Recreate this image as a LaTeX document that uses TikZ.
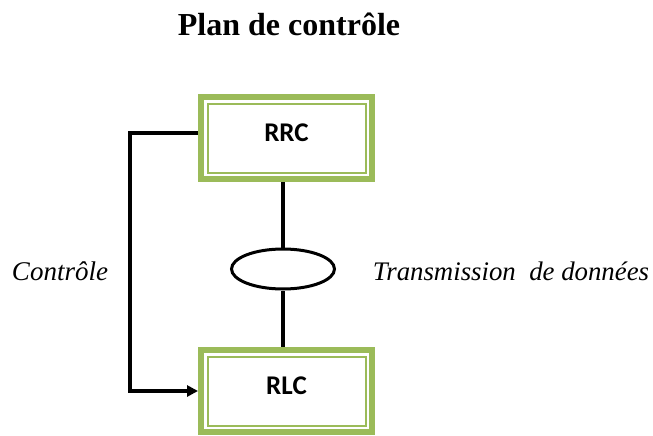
\documentclass[tikz,border=0pt]{standalone}
\usepackage{fontspec}
\setmainfont{Liberation Serif}
\newfontfamily\boxfont{Carlito}
\usetikzlibrary{shapes.geometric,arrows.meta}
\definecolor{ogreen}{RGB}{155,187,89}

\begin{document}
\begin{tikzpicture}[x=1pt,y=-1pt,
layer/.style={draw=ogreen,line width=6pt,minimum width=171pt,minimum height=82pt,inner sep=0pt,text depth=10pt,font=\boxfont\bfseries\fontsize{27}{30}\selectfont},
link/.style={black,line width=3.5pt}]
\useasboundingbox (0,0) rectangle (653,436);
\node (title) at (289,24) {\bfseries\fontsize{32}{36}\selectfont Plan de contr\^ole};
\node[layer] (rrc) at (286.5,138) {RRC};
\node[layer] (rlc) at (286.5,391) {RLC};
\foreach \n in {rrc,rlc}
\draw[ogreen,line width=2pt] ([shift={(9.5,-9.5)}]\n.south west) rectangle ([shift={(-9.5,9.5)}]\n.north east);
\node[ellipse,draw,line width=3pt,minimum width=103pt,minimum height=40pt,inner sep=0pt] (chan) at (283,269) {};
\node (ctrl) at (60,271) {\itshape\fontsize{27}{30}\selectfont Contr\^ole};
\node (data) at (511,271) {\itshape\fontsize{26.8}{30}\selectfont Transmission\ \ de donn\'ees};
\draw[link] (rrc.south-|chan.north) -- (chan.north);
\draw[link] (chan.south) -- (rlc.north-|chan.south);
\draw[link,-{Triangle[length=11pt,width=11pt]}] ([yshift=5]rrc.west) -- ++(-68,0) |- (rlc.west);
\end{tikzpicture}
\end{document}
